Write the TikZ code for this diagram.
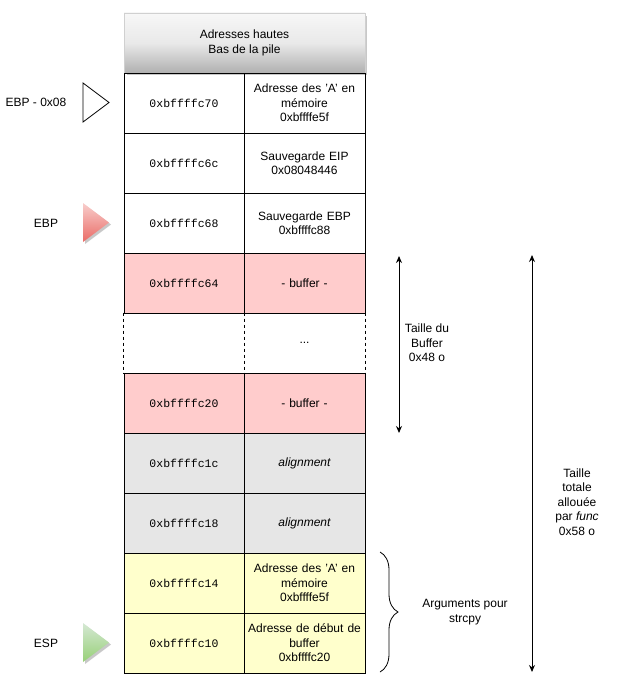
\documentclass[tikz,border=0pt]{standalone}
\usepackage{fontspec}
\setmainfont{Liberation Sans}
\setmonofont{Liberation Mono}
\usetikzlibrary{arrows.meta,decorations.pathreplacing}

\definecolor{bufred}{HTML}{FFCCCC}
\definecolor{aligngray}{HTML}{E6E6E6}
\definecolor{argyellow}{HTML}{FFFFCC}
\definecolor{hdrtop}{HTML}{F7F7F7}
\definecolor{hdrbot}{HTML}{B0B0B0}
\definecolor{hdrline}{HTML}{D0D0D0}
\definecolor{redlight}{HTML}{F8CECC}
\definecolor{reddark}{HTML}{EA6B66}
\definecolor{greenlight}{HTML}{D5E8D4}
\definecolor{greendark}{HTML}{97D077}
\definecolor{shadowgray}{HTML}{C8C8C8}

\begin{document}
\begin{tikzpicture}[x=1pt,y=-1pt,
  txt/.style={font=\fontsize{12}{14.5}\selectfont, align=center, inner sep=0pt},
  cell/.style={txt, draw=black, line width=1pt, minimum width=120pt, minimum height=60pt},
  valcell/.style={cell, minimum width=121pt, text width=119pt},
  addrcell/.style={cell, font=\ttfamily\fontsize{11.5}{13}\selectfont},
  opencell/.style={cell, draw=none},
  sizearrow/.style={line width=1pt, {Stealth[length=7pt,width=6pt]}-{Stealth[length=7pt,width=6pt]}},
  pointer/.style={line width=0.8pt}
]
\useasboundingbox (0,0) rectangle (616,693);

% stack header with glossy shading
\fill[shadowgray] (127,16) rectangle (367,75);
\shade[top color=hdrtop, bottom color=hdrbot, middle color=hdrtop!80!hdrbot]
  (124,13) rectangle (365,73);
\draw[hdrline, line width=0.8pt] (124,13) rectangle (365,73);
\node[txt] (hdr) at (244.5,43) {Adresses hautes\\Bas de la pile};

% stack rows: address column and content column
\node[addrcell] (a1) at (184,103) {0xbffffc70};
\node[valcell]  (v1) at (304.5,103) {Adresse des 'A' en\\mémoire\\0xbffffe5f};

\node[addrcell] (a2) at (184,163) {0xbffffc6c};
\node[valcell]  (v2) at (304.5,163) {Sauvegarde EIP\\0x08048446};

\node[addrcell] (a3) at (184,223) {0xbffffc68};
\node[valcell]  (v3) at (304.5,223) {Sauvegarde EBP\\0xbffffc88};

\node[addrcell, fill=bufred] (a4) at (184,283) {0xbffffc64};
\node[valcell, fill=bufred]  (v4) at (304.5,283) {- buffer -};

\node[opencell] (a5) at (184,343) {};
\node[opencell, minimum width=121pt] (v5) at (304.5,343) {...};
\draw[dashed, line width=1pt] (a5.north west) -- (a5.south west);
\draw[dashed, line width=1pt] (a5.north east) -- (a5.south east);
\draw[dashed, line width=1pt] (v5.north east) -- (v5.south east);

\node[addrcell, fill=bufred] (a6) at (184,403) {0xbffffc20};
\node[valcell, fill=bufred]  (v6) at (304.5,403) {- buffer -};

\node[addrcell, fill=aligngray] (a7) at (184,463) {0xbffffc1c};
\node[valcell, fill=aligngray]  (v7) at (304.5,463) {\itshape alignment};

\node[addrcell, fill=aligngray] (a8) at (184,523) {0xbffffc18};
\node[valcell, fill=aligngray]  (v8) at (304.5,523) {\itshape alignment};

\node[addrcell, fill=argyellow] (a9) at (184,583) {0xbffffc14};
\node[valcell, fill=argyellow]  (v9) at (304.5,583) {Adresse des 'A' en\\mémoire\\0xbffffe5f};

\node[addrcell, fill=argyellow] (a10) at (184,643) {0xbffffc10};
\node[valcell, fill=argyellow]  (v10) at (304.5,643) {Adresse de début de\\buffer\\0xbffffc20};

% register pointers
\node[txt] (lblebp8) at (36,102) {EBP - 0x08};
\draw[pointer, fill=white] (83,83) -- (109,102.5) -- (83,122) -- cycle;

\node[txt] (lblebp) at (46,223) {EBP};
\fill[shadowgray] (85,205) -- (111,224.5) -- (85,244) -- cycle;
\shade[top color=redlight, bottom color=reddark] (83,203) -- (109,222.5) -- (83,242) -- cycle;

\node[txt] (lblesp) at (46,643) {ESP};
\fill[shadowgray] (85,625) -- (111,644.5) -- (85,664) -- cycle;
\shade[top color=greenlight, bottom color=greendark] (83,623) -- (109,642.5) -- (83,662) -- cycle;

% buffer size
\coordinate (bufTop) at (399,256);
\coordinate (bufBot) at (399,433);
\draw[sizearrow] (bufTop) -- (bufBot);
\node[txt] (lblbuf) at (427,343) {Taille du\\Buffer\\0x48 o};

% total frame size
\coordinate (totTop) at (532,255);
\coordinate (totBot) at (532,672);
\draw[sizearrow] (totTop) -- (totBot);
\node[txt] (lbltot) at (577,502) {Taille\\totale\\allouée\\par \textit{func}\\0x58 o};

% strcpy arguments
\coordinate (argTop) at (380,552);
\coordinate (argBot) at (380,672);
\draw[line width=0.8pt, decorate, decoration={brace, amplitude=18pt, aspect=0.5}] (argTop) -- (argBot);
\node[txt] (lblargs) at (465,612) {Arguments pour\\strcpy};
\end{tikzpicture}
\end{document}
